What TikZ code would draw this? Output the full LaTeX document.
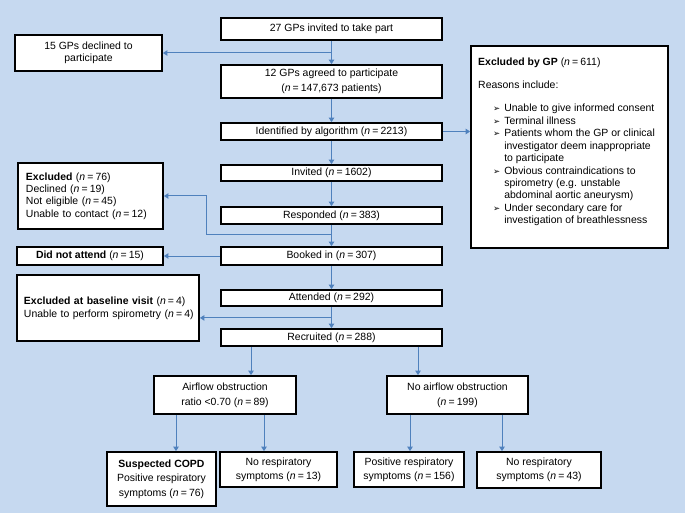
\documentclass[tikz,border=0pt]{standalone}
\usepackage{fontspec}
\setmainfont{Liberation Sans}
\newfontfamily\dejavu{DejaVu Sans}
\usetikzlibrary{arrows.meta}
\definecolor{bgblue}{HTML}{C6D9F0}
\definecolor{arrblue}{HTML}{4F81BD}
\newcommand\nval[1]{(\textit{n}\hspace{0.2em}=\hspace{0.2em}#1)}
\newcommand\bul{{\dejavu\fontsize{8.5}{8}\selectfont ➢}}
\begin{document}
\begin{tikzpicture}[x=1bp,y=-1bp,
  box/.style={draw=black,line width=1.8bp,fill=white,inner sep=0pt,align=center,font=\fontsize{10.5}{15}\selectfont},
  main/.style={box,minimum width=221bp,minimum height=17bp},
  lbox/.style={box,align=left,inner xsep=8bp},
  arr/.style={draw=arrblue,line width=1bp,-{Triangle[width=5.5bp,length=4.5bp]}},
  conn/.style={draw=arrblue,line width=1bp}]
\fill[bgblue] (0,0) rectangle (685,513);
\useasboundingbox (0,0) rectangle (685,513);
% main column
\node[main,minimum height=22bp] (n27) at (331.5,29) {27 GPs invited to take part};
\node[main,minimum height=33bp] (n12) at (331.5,81.5) {12 GPs agreed to participate\\\nval{147,673 patients}};
\node[main] (nid) at (331.5,131.5) {Identified by algorithm \nval{2213}};
\node[main,minimum height=16bp] (ninv) at (331.5,173) {Invited \nval{1602}};
\node[main] (nresp) at (331.5,215.5) {Responded \nval{383}};
\node[main,minimum height=18bp] (nbook) at (331.5,256) {Booked in \nval{307}};
\node[main,minimum height=16bp] (natt) at (331.5,298) {Attended \nval{292}};
\node[main] (nrec) at (331.5,337.5) {Recruited \nval{288}};
% left column
\node[box,minimum width=147bp,minimum height=36bp,font=\fontsize{10.5}{12}\selectfont] (ndecl) at (88.5,53) {15 GPs declined to\\participate};
\node[lbox,text width=129bp,minimum height=66bp,font=\fontsize{10.5}{12.3}\selectfont] (nexcl) at (90.5,196) {\textbf{Excluded} \nval{76}\\Declined \nval{19}\\Not eligible \nval{45}\\Unable to contact \nval{12}};
\node[box,minimum width=146bp,minimum height=18bp] (ndna) at (90,256) {\textbf{Did not attend} \nval{15}};
\node[lbox,inner xsep=7bp,text width=168bp,minimum height=66bp,font=\fontsize{10.5}{13}\selectfont] (nbase) at (108,308) {\textbf{Excluded at baseline visit} \nval{4}\\\mbox{Unable to perform spirometry \nval{4}}};
% right box
\node[box,minimum width=197bp,minimum height=202bp] (gpx) at (569.5,147) {};
\node[anchor=north west,inner sep=0pt,font=\fontsize{10.5}{12.5}\selectfont] (gpxt) at (478,57) {%
\begin{tabular}{@{\hspace{15bp}}l@{\hspace{4bp}}l@{}}
\multicolumn{2}{@{}l}{\textbf{Excluded by GP} \nval{611}}\\[10.5bp]
\multicolumn{2}{@{}l}{Reasons include:}\\[10.5bp]
\bul & Unable to give informed consent\\
\bul & Terminal illness\\
\bul & Patients whom the GP or clinical\\
 & investigator deem inappropriate\\
 & to participate\\
\bul & Obvious contraindications to\\
 & spirometry (e.g. unstable\\
 & abdominal aortic aneurysm)\\
\bul & Under secondary care for\\
 & investigation of breathlessness
\end{tabular}};
% bottom
\node[box,minimum width=142bp,minimum height=38bp] (air) at (225,395) {Airflow obstruction\\ratio <0.70 \nval{89}};
\node[box,minimum width=141bp,minimum height=38bp] (noair) at (457.5,395) {No airflow obstruction\\\nval{199}};
\node[box,minimum width=109bp,minimum height=54bp,font=\fontsize{10.5}{14.5}\selectfont] (copd) at (161.5,479) {\textbf{Suspected COPD}\\Positive respiratory\\symptoms \nval{76}};
\node[box,minimum width=117bp,minimum height=35bp,font=\fontsize{10.5}{14}\selectfont] (nr1) at (278.5,469.5) {No respiratory\\symptoms \nval{13}};
\node[box,minimum width=110bp,minimum height=35bp,font=\fontsize{10.5}{14}\selectfont] (pos) at (409,469.5) {Positive respiratory\\symptoms \nval{156}};
\node[box,minimum width=124bp,minimum height=36bp,font=\fontsize{10.5}{14}\selectfont] (nr2) at (539,470) {No respiratory\\symptoms \nval{43}};
% connectors
\coordinate (b0) at (n27.south |- ndecl.east);
\draw[arr] (n27.south) -- (n12.north);
\draw[arr] (b0) -- (ndecl.east);
\draw[arr] (n12.south) -- (nid.north);
\draw[arr] (nid.east) -- (nid.east -| gpx.west);
\draw[arr] (nid.south) -- (ninv.north);
\draw[arr] (ninv.south) -- (nresp.north);
\draw[arr] (nresp.south) -- (nbook.north);
\coordinate (b1) at ([yshift=-10bp]nresp.south);
\draw[arr] (b1) -- ++(-125.5,0) |- (nexcl.east);
\draw[arr] (nbook.west) -- (ndna.east);
\draw[arr] (nbook.south) -- (natt.north);
\draw[arr] (natt.south) -- (nrec.north);
\coordinate (b2) at ([yshift=-11bp]natt.south);
\draw[arr] (b2) -- (b2 -| nbase.east);
\draw[arr] ([xshift=-80.5bp]nrec.south) -- ([xshift=-80.5bp]nrec.south |- air.north);
\draw[arr] ([xshift=86.5bp]nrec.south) -- ([xshift=86.5bp]nrec.south |- noair.north);
\draw[arr] ([xshift=-49bp]air.south) -- ([xshift=-49bp]air.south |- copd.north);
\draw[arr] ([xshift=39bp]air.south) -- ([xshift=39bp]air.south |- nr1.north);
\draw[arr] ([xshift=-47.5bp]noair.south) -- ([xshift=-47.5bp]noair.south |- pos.north);
\draw[arr] ([xshift=44.5bp]noair.south) -- ([xshift=44.5bp]noair.south |- nr2.north);
\end{tikzpicture}
\end{document}
